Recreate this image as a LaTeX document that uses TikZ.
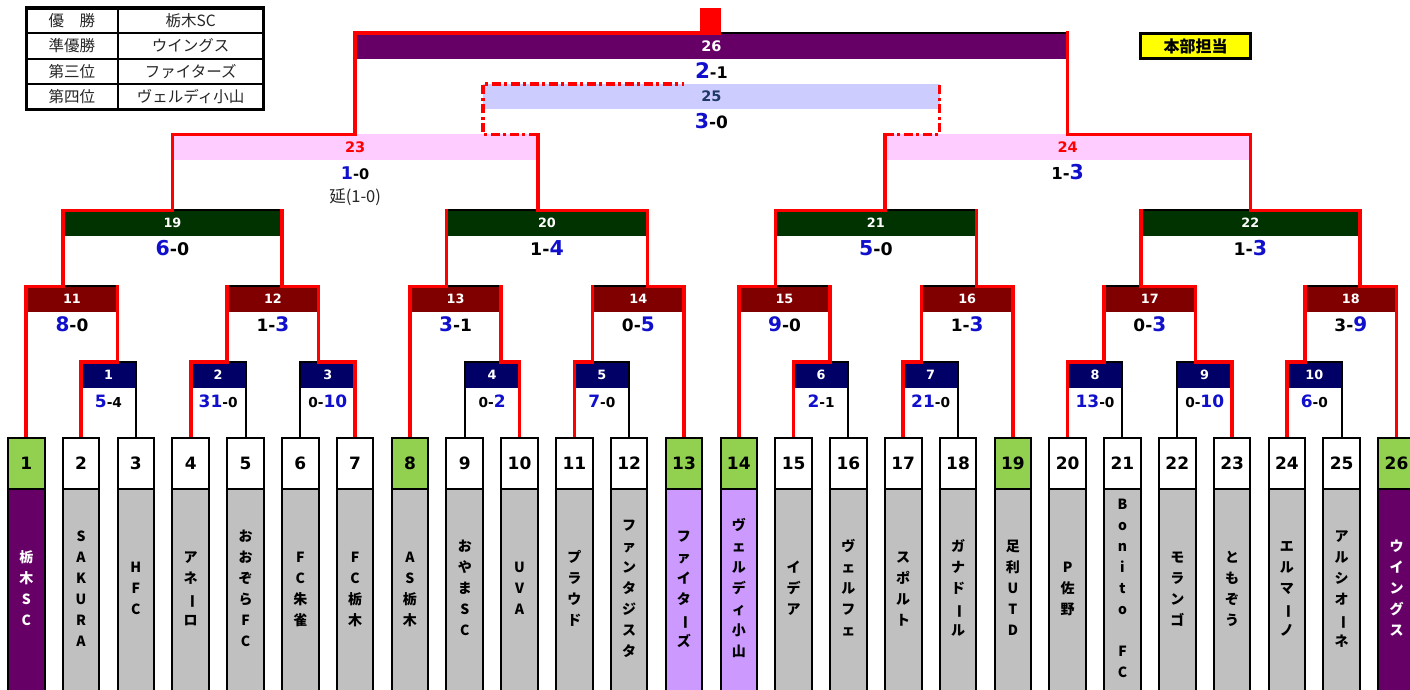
\documentclass[tikz,border=0pt]{standalone}
\usepackage{fontspec}
\usepackage{graphicx}
\setmainfont{DejaVu Sans}
\newfontfamily\jp{Noto Sans CJK JP}
\definecolor{purp}{HTML}{660066}
\definecolor{lavh}{HTML}{CCCCFF}
\definecolor{pinkh}{HTML}{FFCCFF}
\definecolor{dkg}{HTML}{003300}
\definecolor{dkr}{HTML}{800000}
\definecolor{nav}{HTML}{000066}
\definecolor{seed}{HTML}{92D050}
\definecolor{gry}{HTML}{C0C0C0}
\definecolor{lavn}{HTML}{CC99FF}
\definecolor{yel}{HTML}{FFFF00}
\definecolor{rd}{HTML}{FF0000}
\definecolor{sbl}{HTML}{1010CC}
\definecolor{nfive}{HTML}{1F3864}
\newcommand\fs[1]{\fontsize{#1}{#1}\selectfont}
\newcommand\wl[4]{{\fs{#1}\color{sbl}#3}{\fs{#2}-#4}}
\newcommand\lw[4]{{\fs{#2}#3-}{\fs{#1}\color{sbl}#4}}
\newcommand\vb{\rotatebox[origin=c]{-90}{ー}}
\begin{document}
\begin{tikzpicture}[x=18.27pt,y=-25.3pt,
  redl/.style={draw=rd,line width=3.6pt,line cap=rect,line join=miter},
  blkl/.style={draw=black,line width=2pt},
  dd/.style={draw=rd,line width=3.4pt,dash pattern=on 9pt off 3.5pt on 3pt off 3.5pt},
  hn/.style={font=\bfseries\fs{12.8},text=white,inner sep=0pt},
  hnb/.style={font=\bfseries\fs{14.5},inner sep=0pt},
  sc/.style={font=\bfseries,anchor=base,inner sep=0pt},
  tnum/.style={font=\bfseries\fs{17},inner sep=0pt},
  nch/.style={font=\jp\bfseries\fs{14},anchor=base,inner sep=0pt,yshift=-5pt},
  tabt/.style={font=\jp\fs{15.5},text=black!85,inner sep=0pt},
]
\useasboundingbox (-0.43788,-0.31621) rectangle (76.7378,26.9565);
\clip (-0.43788,-0.31621) rectangle (76.7378,26.9565);
\fill[white] (-0.43788,-0.31621) rectangle (76.7378,26.9565);

% header fills
\foreach \L/\R in {4/7,10/13,16/19,25/28,31/34,43/46,49/52,58/61,64/67,70/73}
  \fill[nav] (\L,14) rectangle (\R,15);
\foreach \L/\R in {1/6,12/17,22/27,32/37,40/45,50/55,60/65,71/76}
  \fill[dkr] (\L,11) rectangle (\R,12);
\foreach \L/\R in {3/15,24/35,42/53,62/74}
  \fill[dkg] (\L,8) rectangle (\R,9);
\fill[pinkh] (9,5) rectangle (29,6);
\fill[pinkh] (48,5) rectangle (68,6);
\fill[lavh] (26,3) rectangle (51,4);
\fill[purp] (19,1) rectangle (58,2);

% black outlines
\foreach \L/\R/\T/\CL/\CR in {
4/7/14/17/17, 10/13/14/17/17, 16/19/14/17/17, 25/28/14/17/17, 31/34/14/17/17,
43/46/14/17/17, 49/52/14/17/17, 58/61/14/17/17, 64/67/14/17/17, 70/73/14/17/17,
1/6/11/17/14, 12/17/11/14/14, 22/27/11/17/14, 32/37/11/14/17, 40/45/11/17/14,
50/55/11/14/17, 60/65/11/14/14, 71/76/11/14/17,
3/15/8/11/11, 24/35/8/11/11, 42/53/8/11/11, 62/74/8/11/11}
  \draw[blkl] (\L,\CL)--(\L,\T)--(\R,\T)--(\R,\CR);
\draw[blkl] (19,1)--(58,1);

% winner paths
\foreach \L/\R/\T/\CL/\CR/\U/\P/\W in {
4/7/14/17/17/6/11/L, 10/13/14/17/17/12/11/L, 16/19/14/17/17/17/11/R,
25/28/14/17/17/27/11/R, 31/34/14/17/17/32/11/L, 43/46/14/17/17/45/11/L,
49/52/14/17/17/50/11/L, 58/61/14/17/17/60/11/L, 64/67/14/17/17/65/11/R,
70/73/14/17/17/71/11/L,
1/6/11/17/14/3/8/L, 12/17/11/14/14/15/8/R, 22/27/11/17/14/24/8/L,
32/37/11/14/17/35/8/R, 40/45/11/17/14/42/8/L, 50/55/11/14/17/53/8/R,
60/65/11/14/14/62/8/R, 71/76/11/14/17/74/8/R,
3/15/8/11/11/9/5/L, 24/35/8/11/11/29/5/R, 42/53/8/11/11/48/5/L,
62/74/8/11/11/68/5/R,
9/29/5/8/8/19/1/L, 48/68/5/8/8/58/1/R}
{\if\W L\relax
   \draw[redl] (\L,\CL)--(\L,\T)--(\U,\T)--(\U,\P);
 \else
   \draw[redl] (\R,\CR)--(\R,\T)--(\U,\T)--(\U,\P);
 \fi}
\draw[redl] (19,5)--(19,1)--(38,1);

% third place
\draw[dd] (29,5)--(26,5)--(26,3)--(37,3);
\draw[dd] (48,5)--(51,5)--(51,3);

% champion marker
\fill[rd] (37.88,0) rectangle (39.0,1.05);

% team boxes
\foreach \t/\nc/\bc in {1/seed/purp,2/white/gry,3/white/gry,4/white/gry,5/white/gry,
6/white/gry,7/white/gry,8/seed/gry,9/white/gry,10/white/gry,11/white/gry,12/white/gry,
13/seed/lavn,14/seed/lavn,15/white/gry,16/white/gry,17/white/gry,18/white/gry,
19/seed/gry,20/white/gry,21/white/gry,22/white/gry,23/white/gry,24/white/gry,
25/white/gry,26/seed/purp}
{
  \draw[blkl,fill=\bc] ({3*\t-3},19) rectangle ({3*\t-1},28);
  \draw[blkl,fill=\nc] ({3*\t-3},17) rectangle ({3*\t-1},19);
  \node[tnum] (t\t) at ({3*\t-2},18) {\t};
}

% team names (vertical)
\foreach \t/\tc/\n/\chars in {
1/white/4/{栃,木,S,C},
2/black/6/{S,A,K,U,R,A},
3/black/3/{H,F,C},
4/black/4/{ア,ネ,\vb,ロ},
5/black/6/{お,お,ぞ,ら,F,C},
6/black/4/{F,C,朱,雀},
7/black/4/{F,C,栃,木},
8/black/4/{A,S,栃,木},
9/black/5/{お,や,ま,S,C},
10/black/3/{U,V,A},
11/black/4/{プ,ラ,ウ,ド},
12/black/7/{フ,ァ,ン,タ,ジ,ス,タ},
13/black/6/{フ,ァ,イ,タ,\vb,ズ},
14/black/7/{ヴ,ェ,ル,デ,ィ,小,山},
15/black/3/{イ,デ,ア},
16/black/5/{ヴ,ェ,ル,フ,ェ},
17/black/4/{ス,ポ,ル,ト},
18/black/5/{ガ,ナ,ド,\vb,ル},
19/black/5/{足,利,U,T,D},
20/black/3/{P,佐,野},
21/black/9/{B,o,n,i,t,o,{},F,C},
22/black/4/{モ,ラ,ン,ゴ},
23/black/4/{と,も,ぞ,う},
24/black/5/{エ,ル,マ,\vb,ノ},
25/black/6/{ア,ル,シ,オ,\vb,ネ},
26/white/5/{ウ,イ,ン,グ,ス}}
{
  \foreach \cc [count=\i] in \chars
    \node[nch,text=\tc] at ({3*\t-2},{22.96+(\i-(\n+1)/2)*0.83}) {\cc};
}

% header numbers
\foreach \m/\x in {1/5.5,2/11.5,3/17.5,4/26.5,5/32.5,6/44.5,7/50.5,8/59.5,9/65.5,10/71.5}
  \node[hn] (m\m) at (\x,14.5) {\m};
\foreach \m/\x in {11/3.5,12/14.5,13/24.5,14/34.5,15/42.5,16/52.5,17/62.5,18/73.5}
  \node[hn] (m\m) at (\x,11.5) {\m};
\foreach \m/\x in {19/9,20/29.5,21/47.5,22/68}
  \node[hn] (m\m) at (\x,8.5) {\m};
\node[hnb,text=rd] (m23) at (19,5.5) {23};
\node[hnb,text=rd] (m24) at (58,5.5) {24};
\node[hnb,text=nfive] (m25) at (38.5,3.5) {25};
\node[hnb,text=white] (m26) at (38.5,1.5) {26};

% scores round 1
\node[sc] (s1) at (5.5,15.79) {\wl{17}{13.7}{5}{4}};
\node[sc] (s2) at (11.5,15.79) {\wl{17}{13.7}{31}{0}};
\node[sc] (s3) at (17.5,15.79) {\lw{17}{13.7}{0}{10}};
\node[sc] (s4) at (26.5,15.79) {\lw{17}{13.7}{0}{2}};
\node[sc] (s5) at (32.5,15.79) {\wl{17}{13.7}{7}{0}};
\node[sc] (s6) at (44.5,15.79) {\wl{17}{13.7}{2}{1}};
\node[sc] (s7) at (50.5,15.79) {\wl{17}{13.7}{21}{0}};
\node[sc] (s8) at (59.5,15.79) {\wl{17}{13.7}{13}{0}};
\node[sc] (s9) at (65.5,15.79) {\lw{17}{13.7}{0}{10}};
\node[sc] (s10) at (71.5,15.79) {\wl{17}{13.7}{6}{0}};
% round 2
\node[sc] (s11) at (3.5,12.79) {\wl{20}{17}{8}{0}};
\node[sc] (s12) at (14.5,12.79) {\lw{20}{17}{1}{3}};
\node[sc] (s13) at (24.5,12.79) {\wl{20}{17}{3}{1}};
\node[sc] (s14) at (34.5,12.79) {\lw{20}{17}{0}{5}};
\node[sc] (s15) at (42.5,12.79) {\wl{20}{17}{9}{0}};
\node[sc] (s16) at (52.5,12.79) {\lw{20}{17}{1}{3}};
\node[sc] (s17) at (62.5,12.79) {\lw{20}{17}{0}{3}};
\node[sc] (s18) at (73.5,12.79) {\lw{20}{17}{3}{9}};
% round 3
\node[sc] (s19) at (9,9.79) {\wl{20.5}{17.4}{6}{0}};
\node[sc] (s20) at (29.5,9.79) {\lw{20.5}{17.4}{1}{4}};
\node[sc] (s21) at (47.5,9.79) {\wl{20.5}{17.4}{5}{0}};
\node[sc] (s22) at (68,9.79) {\lw{20.5}{17.4}{1}{3}};
% semis, 3rd, final
\node[sc] (s23) at (19,6.76) {\wl{17.5}{14.6}{1}{0}};
\node[font=\jp\fs{16.5},text=black!85,anchor=base,inner sep=0pt] (ext) at (19,7.68) {延(1-0)};
\node[sc] (s24) at (58,6.79) {\lw{20.5}{16.5}{1}{3}};
\node[sc] (s25) at (38.5,4.78) {\wl{20.5}{17}{3}{0}};
\node[sc] (s26) at (38.5,2.80) {\wl{21.5}{16}{2}{1}};

% legend table
\draw[line width=2pt] (1,1)--(14,1) (1,2)--(14,2) (1,3)--(14,3) (6,0)--(6,4);
\draw[line width=3.3pt] (1,0) rectangle (14,4);
\node[tabt] (k1) at (3.5,0.5) {優　勝};
\node[tabt] (k2) at (3.5,1.5) {準優勝};
\node[tabt] (k3) at (3.5,2.5) {第三位};
\node[tabt] (k4) at (3.5,3.5) {第四位};
\node[tabt] (v1) at (10,0.5) {栃木SC};
\node[tabt] (v2) at (10,1.5) {ウイングス};
\node[tabt] (v3) at (10,2.5) {ファイターズ};
\node[tabt] (v4) at (10,3.5) {ヴェルディ小山};

% HQ box
\draw[line width=2.7pt,fill=yel] (62,1) rectangle (68,2);
\node[font=\jp\bfseries\fs{16},inner sep=0pt] (hq) at (65,1.5) {本部担当};
\end{tikzpicture}
\end{document}
